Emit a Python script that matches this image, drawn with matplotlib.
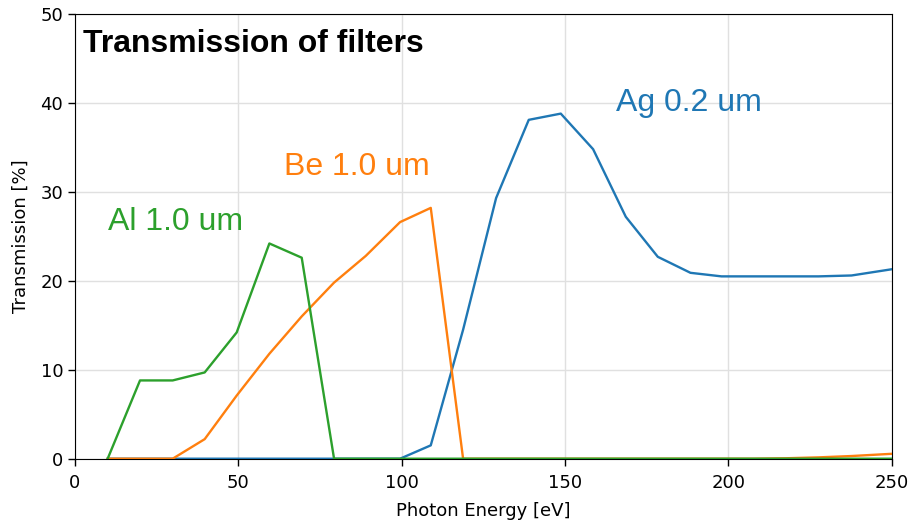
import matplotlib
matplotlib.use("Agg")
import matplotlib.pyplot as plt

# Photon energies (eV) of the sample points
energy = [10, 19.9, 29.9, 39.7, 49.5, 59.5, 69.4, 79.3, 89.0, 99.5,
          108.9, 118.8, 128.9, 138.9, 148.7, 158.6, 168.6, 178.4, 188.4, 197.9,
          207.8, 217.7, 227.6, 237.7, 250]

# Transmission (%) of each filter
ag_02 = [0, 0, 0, 0, 0, 0, 0, 0, 0, 0,
         1.5, 14.5, 29.3, 38.1, 38.8, 34.8, 27.2, 22.7, 20.9, 20.5,
         20.5, 20.5, 20.5, 20.6, 21.3]
be_10 = [0, 0, 0, 2.2, 7.1, 11.8, 16.0, 19.8, 22.8, 26.6,
         28.2, 0, 0, 0, 0, 0, 0, 0, 0, 0,
         0, 0.05, 0.15, 0.3, 0.55]
al_10 = [0, 8.8, 8.8, 9.7, 14.2, 24.2, 22.6, 0, 0, 0,
         0, 0, 0, 0, 0, 0, 0, 0, 0, 0,
         0, 0, 0, 0, 0]

labels = ["Ag 0.2 um", "Be 1.0 um", "Al 1.0 um"]
colors = ["#1f77b4", "#ff7f0e", "#2ca02c"]
label_pos = [(165.7, 39.05), (64.1, 31.85), (10.0, 25.7)]

xticks = [0, 50, 100, 150, 200, 250]
yticks = [0, 10, 20, 30, 40, 50]

fig = plt.figure(figsize=(9.1, 5.2), dpi=100)
ax = fig.add_axes([75 / 910, 1 - 458.7 / 520, 816.7 / 910, 444.7 / 520])

for series, c in zip([ag_02, be_10, al_10], colors):
    ax.plot(energy, series, color=c, lw=1.7, zorder=3)

for (tx, ty), lab, c in zip(label_pos, labels, colors):
    ax.text(tx, ty, lab, color=c, fontsize=23, family="Liberation Sans",
            ha="left", va="baseline")

ax.text(0.0098, 0.915, "Transmission of filters", transform=ax.transAxes,
        fontsize=23, fontweight="bold", family="Liberation Sans",
        ha="left", va="baseline", color="black")

ax.set_xlim(0, 250)
ax.set_ylim(0, 50)
ax.set_xticks(xticks)
ax.set_yticks(yticks)
ax.grid(True, color="#e0e0e0", lw=1.0, zorder=0)
ax.set_axisbelow(True)
ax.tick_params(labelsize=13, length=5, width=1)
ax.tick_params(axis="x", pad=6)
ax.set_xlabel("Photon Energy [eV]", fontsize=13, labelpad=7)
ax.set_ylabel("Transmission [%]", fontsize=13, labelpad=8)

fig.savefig("out.png", dpi=100)
